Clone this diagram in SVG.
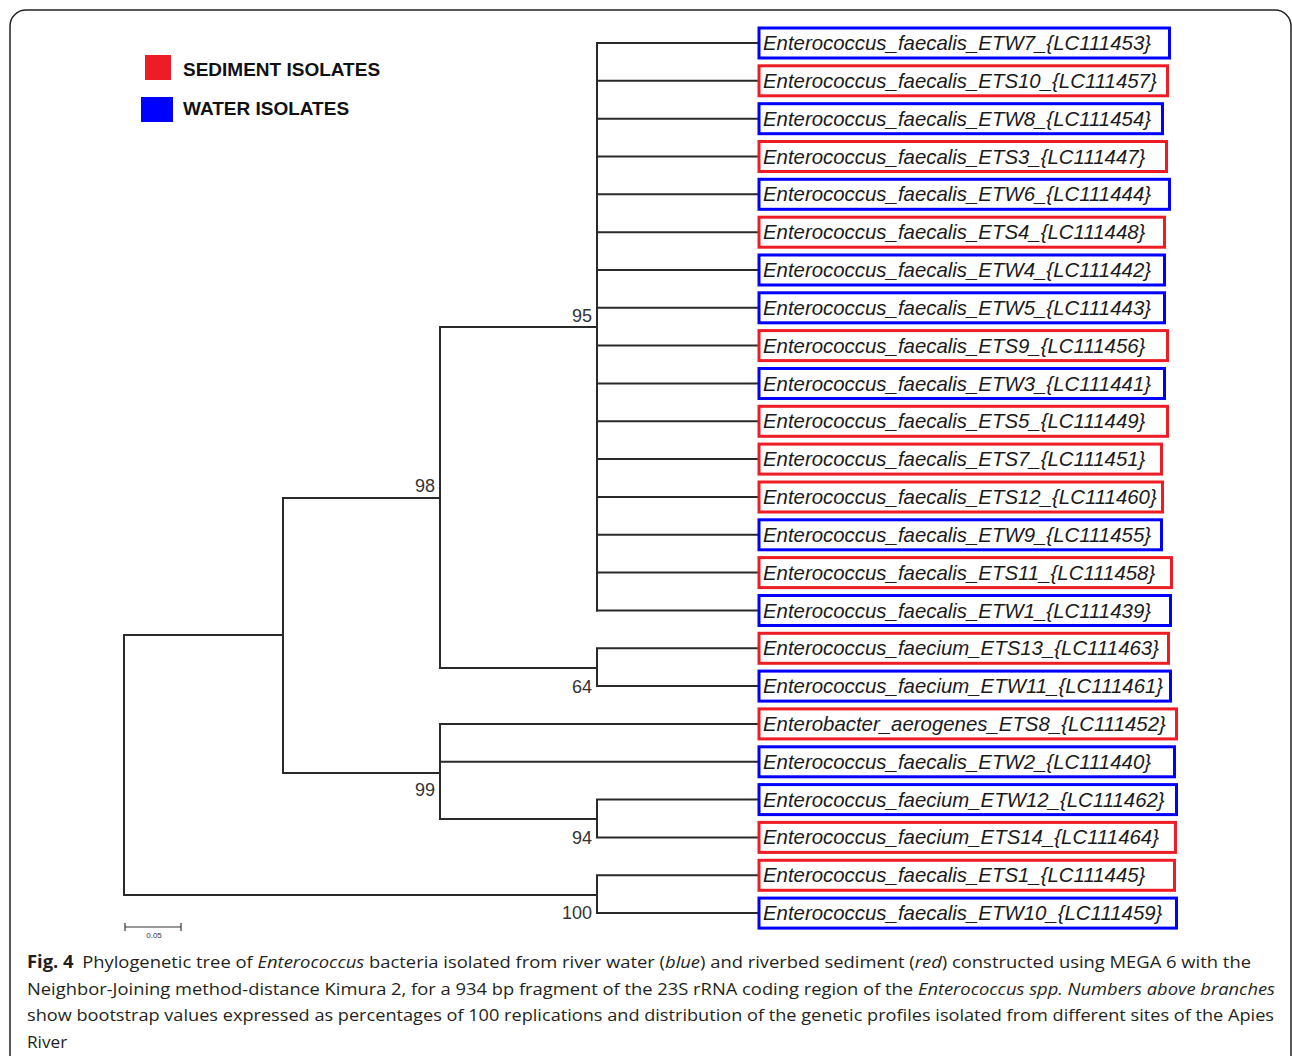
<svg xmlns="http://www.w3.org/2000/svg" width="1292" height="1056" viewBox="0 0 1292 1056">
<style>
.frame{fill:none;stroke:#222;stroke-width:1.5}
.br{fill:none;stroke:#2a2a2a;stroke-width:2;stroke-linecap:square}
.sed{fill:#fff;stroke:#ee1c25;stroke-width:3}
.wat{fill:#fff;stroke:#0000ff;stroke-width:3}
.lbl{font-family:"Liberation Sans",Arial,sans-serif;font-style:italic;font-size:20.4px;fill:#1a1a1a}
.bs{font-family:"Liberation Sans",Arial,sans-serif;font-size:18px;fill:#333;text-anchor:end}
.leg{font-family:"Liberation Sans",Arial,sans-serif;font-weight:bold;font-size:19px;fill:#111}
.cap{font-family:"Open Sans","Noto Sans",sans-serif;font-size:17.2px;fill:#231f20}
.it{font-style:italic}
</style>
<rect class="frame" x="10" y="10" width="1281" height="1100" rx="16"/>
<g id="legend">
<rect x="145" y="55" width="26" height="25" fill="#ee1c25"/>
<text class="leg" x="183" y="76">SEDIMENT ISOLATES</text>
<rect x="141" y="97" width="32" height="25" fill="#0000ff"/>
<text class="leg" x="183" y="115">WATER ISOLATES</text>
</g>
<g id="connectors">
<path class="br" d="M124,635 V895 M124,635 H283 M124,895 H597"/>
<path class="br" d="M283,498 V773 M283,498 H440 M283,773 H440"/>
<path class="br" d="M440,327 V668 M440,327 H597 M440,668 H597"/>
<path class="br" d="M597,43 V610.5"/>
<path class="br" d="M597,43 H757 M597,80.8 H757 M597,118.7 H757 M597,156.5 H757 M597,194.3 H757 M597,232.2 H757 M597,270 H757 M597,307.8 H757 M597,345.6 H757 M597,383.5 H757 M597,421.3 H757 M597,459.1 H757 M597,497 H757 M597,534.8 H757 M597,572.6 H757 M597,610.5 H757"/>
<path class="br" d="M597,648.3 V686.1 M597,648.3 H757 M597,686.1 H757"/>
<path class="br" d="M440,723.9 V819 M440,723.9 H757 M440,761.8 H757 M440,819 H597"/>
<path class="br" d="M597,799.6 V837.4 M597,799.6 H757 M597,837.4 H757"/>
<path class="br" d="M597,875.3 V913.1 M597,875.3 H757 M597,913.1 H757"/>
</g>
<g id="bootstrap">
<text class="bs" x="592" y="322">95</text>
<text class="bs" x="435" y="492">98</text>
<text class="bs" x="592" y="693">64</text>
<text class="bs" x="435" y="796">99</text>
<text class="bs" x="592" y="844">94</text>
<text class="bs" x="592" y="919">100</text>
</g>
<g id="scale">
<path d="M125,927 H181 M125,923 V931 M181,923 V931" stroke="#333" stroke-width="1.2" fill="none"/>
<text x="154" y="938" font-family="Liberation Sans,Arial,sans-serif" font-size="8" fill="#333" text-anchor="middle">0.05</text>
</g>
<g id="leaf-ETW7"><rect class="wat" x="759" y="28" width="410.5" height="30"/><text class="lbl" x="763" y="50">Enterococcus_faecalis_ETW7_{LC111453}</text></g>
<g id="leaf-ETS10"><rect class="sed" x="759" y="65.8" width="408.5" height="30"/><text class="lbl" x="763" y="87.8">Enterococcus_faecalis_ETS10_{LC111457}</text></g>
<g id="leaf-ETW8"><rect class="wat" x="759" y="103.7" width="403.5" height="30"/><text class="lbl" x="763" y="125.7">Enterococcus_faecalis_ETW8_{LC111454}</text></g>
<g id="leaf-ETS3"><rect class="sed" x="759" y="141.5" width="407.5" height="30"/><text class="lbl" x="763" y="163.5">Enterococcus_faecalis_ETS3_{LC111447}</text></g>
<g id="leaf-ETW6"><rect class="wat" x="759" y="179.3" width="410.5" height="30"/><text class="lbl" x="763" y="201.3">Enterococcus_faecalis_ETW6_{LC111444}</text></g>
<g id="leaf-ETS4"><rect class="sed" x="759" y="217.2" width="405.5" height="30"/><text class="lbl" x="763" y="239.2">Enterococcus_faecalis_ETS4_{LC111448}</text></g>
<g id="leaf-ETW4"><rect class="wat" x="759" y="255" width="405.5" height="30"/><text class="lbl" x="763" y="277">Enterococcus_faecalis_ETW4_{LC111442}</text></g>
<g id="leaf-ETW5"><rect class="wat" x="759" y="292.8" width="405.5" height="30"/><text class="lbl" x="763" y="314.8">Enterococcus_faecalis_ETW5_{LC111443}</text></g>
<g id="leaf-ETS9"><rect class="sed" x="759" y="330.6" width="408.5" height="30"/><text class="lbl" x="763" y="352.6">Enterococcus_faecalis_ETS9_{LC111456}</text></g>
<g id="leaf-ETW3"><rect class="wat" x="759" y="368.5" width="405.5" height="30"/><text class="lbl" x="763" y="390.5">Enterococcus_faecalis_ETW3_{LC111441}</text></g>
<g id="leaf-ETS5"><rect class="sed" x="759" y="406.3" width="408.5" height="30"/><text class="lbl" x="763" y="428.3">Enterococcus_faecalis_ETS5_{LC111449}</text></g>
<g id="leaf-ETS7"><rect class="sed" x="759" y="444.1" width="402.5" height="30"/><text class="lbl" x="763" y="466.1">Enterococcus_faecalis_ETS7_{LC111451}</text></g>
<g id="leaf-ETS12"><rect class="sed" x="759" y="482" width="403.5" height="30"/><text class="lbl" x="763" y="504">Enterococcus_faecalis_ETS12_{LC111460}</text></g>
<g id="leaf-ETW9"><rect class="wat" x="759" y="519.8" width="402.5" height="30"/><text class="lbl" x="763" y="541.8">Enterococcus_faecalis_ETW9_{LC111455}</text></g>
<g id="leaf-ETS11"><rect class="sed" x="759" y="557.6" width="412.5" height="30"/><text class="lbl" x="763" y="579.6">Enterococcus_faecalis_ETS11_{LC111458}</text></g>
<g id="leaf-ETW1"><rect class="wat" x="759" y="595.5" width="411.5" height="30"/><text class="lbl" x="763" y="617.5">Enterococcus_faecalis_ETW1_{LC111439}</text></g>
<g id="leaf-ETS13"><rect class="sed" x="759" y="633.3" width="409.5" height="30"/><text class="lbl" x="763" y="655.3">Enterococcus_faecium_ETS13_{LC111463}</text></g>
<g id="leaf-ETW11"><rect class="wat" x="759" y="671.1" width="411.5" height="30"/><text class="lbl" x="763" y="693.1">Enterococcus_faecium_ETW11_{LC111461}</text></g>
<g id="leaf-ETS8"><rect class="sed" x="759" y="708.9" width="417.5" height="30"/><text class="lbl" x="763" y="730.9">Enterobacter_aerogenes_ETS8_{LC111452}</text></g>
<g id="leaf-ETW2"><rect class="wat" x="759" y="746.8" width="415.5" height="30"/><text class="lbl" x="763" y="768.8">Enterococcus_faecalis_ETW2_{LC111440}</text></g>
<g id="leaf-ETW12"><rect class="wat" x="759" y="784.6" width="417.5" height="30"/><text class="lbl" x="763" y="806.6">Enterococcus_faecium_ETW12_{LC111462}</text></g>
<g id="leaf-ETS14"><rect class="sed" x="759" y="822.4" width="416.5" height="30"/><text class="lbl" x="763" y="844.4">Enterococcus_faecium_ETS14_{LC111464}</text></g>
<g id="leaf-ETS1"><rect class="sed" x="759" y="860.3" width="415.5" height="30"/><text class="lbl" x="763" y="882.3">Enterococcus_faecalis_ETS1_{LC111445}</text></g>
<g id="leaf-ETW10"><rect class="wat" x="759" y="898.1" width="417.5" height="30"/><text class="lbl" x="763" y="920.1">Enterococcus_faecalis_ETW10_{LC111459}</text></g>
<g id="caption">
<text class="cap" x="27" y="968" textLength="1224" lengthAdjust="spacingAndGlyphs"><tspan font-weight="bold">Fig. 4</tspan><tspan dx="8">Phylogenetic tree of </tspan><tspan class="it">Enterococcus</tspan><tspan> bacteria isolated from river water (</tspan><tspan class="it">blue</tspan><tspan>) and riverbed sediment (</tspan><tspan class="it">red</tspan><tspan>) constructed using MEGA 6 with the</tspan></text>
<text class="cap" x="27" y="995" textLength="1248" lengthAdjust="spacingAndGlyphs">Neighbor-Joining method-distance Kimura 2, for a 934 bp fragment of the 23S rRNA coding region of the <tspan class="it">Enterococcus spp. Numbers above branches</tspan></text>
<text class="cap" x="27" y="1021" textLength="1247" lengthAdjust="spacingAndGlyphs">show bootstrap values expressed as percentages of 100 replications and distribution of the genetic profiles isolated from different sites of the Apies</text>
<text class="cap" x="27" y="1048">River</text>
</g>
</svg>
